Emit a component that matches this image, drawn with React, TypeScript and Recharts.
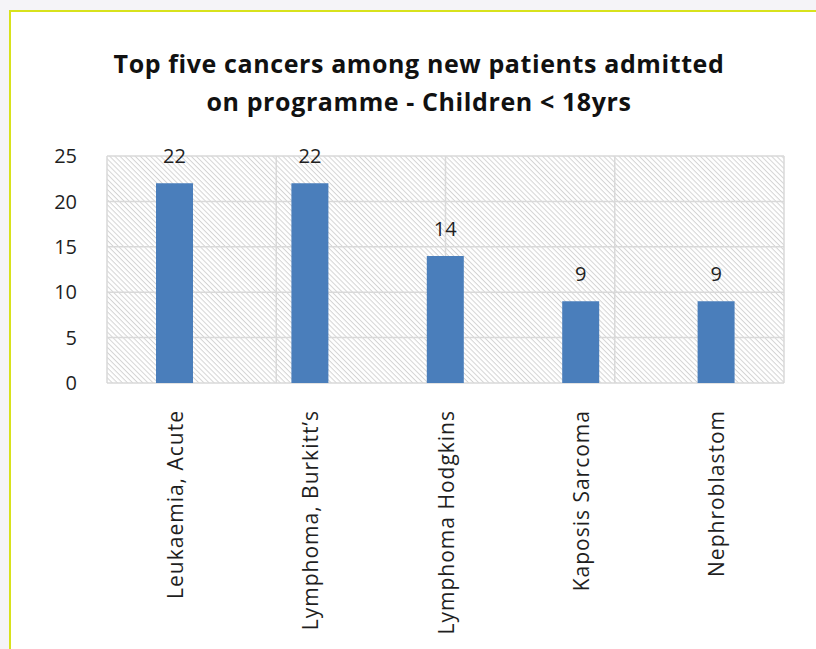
import React from "react";
import { BarChart, Bar, XAxis, YAxis, CartesianGrid, LabelList } from "recharts";

const categories = [
  "Leukaemia, Acute",
  "Lymphoma, Burkitt\u2019s",
  "Lymphoma Hodgkins",
  "Kaposis Sarcoma",
  "Nephroblastom",
];
const values = [22, 22, 14, 9, 9];
const yTicks = [0, 5, 10, 15, 20, 25];
const gridTicks = [0, 1, 2, 3, 4, 5];
const titleLines = [
  "Top five cancers among new patients admitted",
  "on programme - Children < 18yrs",
];

const data = categories.map((name, i) => ({ name, value: values[i] }));

const FONT = "'Open Sans', sans-serif";

const CategoryTick = (props: any) => {
  const { x, y, payload } = props;
  const ty = y + 19;
  return (
    <text
      x={x}
      y={ty}
      transform={`rotate(-90 ${x} ${ty})`}
      textAnchor="end"
      dominantBaseline="central"
      fontFamily={FONT}
      fontSize={21}
      letterSpacing={1}
      fill="#1f1f1f"
    >
      {payload.value}
    </text>
  );
};

export default function App() {
  return (
    <div
      style={{
        position: "absolute",
        left: 0,
        top: 0,
        width: 816,
        height: 649,
        background: "#f5f4f8",
        overflow: "hidden",
      }}
    >
      <svg width="0" height="0" style={{ position: "absolute" }}>
        <defs>
          <pattern
            id="hatch"
            patternUnits="userSpaceOnUse"
            width="6"
            height="3.6"
            patternTransform="rotate(45)"
          >
            <rect width="6" height="3.6" fill="#ffffff" />
            <line x1="0" y1="0.5" x2="6" y2="0.5" stroke="#d4d4d4" strokeWidth="1" />
          </pattern>
        </defs>
      </svg>
      <div
        style={{
          position: "absolute",
          left: 9,
          top: 10,
          width: 830,
          height: 660,
          border: "2px solid #d8e21c",
          background: "#ffffff",
          boxSizing: "border-box",
        }}
      />
      <div
        style={{
          position: "absolute",
          left: 0,
          top: 44,
          width: 838,
          textAlign: "center",
          fontFamily: FONT,
          fontWeight: 700,
          fontSize: 25,
          letterSpacing: 0.6,
          lineHeight: "38px",
          color: "#111",
        }}
      >
        {titleLines.map((t) => (
          <div key={t}>{t}</div>
        ))}
      </div>
      <div style={{ position: "absolute", left: 0, top: 0 }}>
        <BarChart
          width={816}
          height={649}
          data={data}
          margin={{ top: 156, right: 32, left: 0, bottom: 0 }}
        >
          <CartesianGrid
            xAxisId="grid"
            stroke="#d9d9d9"
            strokeWidth={1.5}
            fill="url(#hatch)"
            fillOpacity={1}
          />
          <XAxis
            xAxisId="grid"
            type="number"
            domain={[0, 5]}
            ticks={gridTicks}
            hide
            allowDataOverflow
          />
          <XAxis
            dataKey="name"
            height={266}
            axisLine={false}
            tickLine={false}
            interval={0}
            tick={<CategoryTick />}
          />
          <YAxis
            width={107}
            domain={[0, 25]}
            ticks={yTicks}
            axisLine={false}
            tickLine={false}
            tickSize={0}
            tickMargin={30}
            tick={{ fontFamily: FONT, fontSize: 20, fill: "#1f1f1f" }}
          />
          <Bar dataKey="value" fill="#4a7ebb" barSize={37} isAnimationActive={false}>
            <LabelList
              dataKey="value"
              position="top"
              offset={20}
              fontFamily={FONT}
              fontSize={20}
              fill="#1f1f1f"
            />
          </Bar>
        </BarChart>
      </div>
    </div>
  );
}
